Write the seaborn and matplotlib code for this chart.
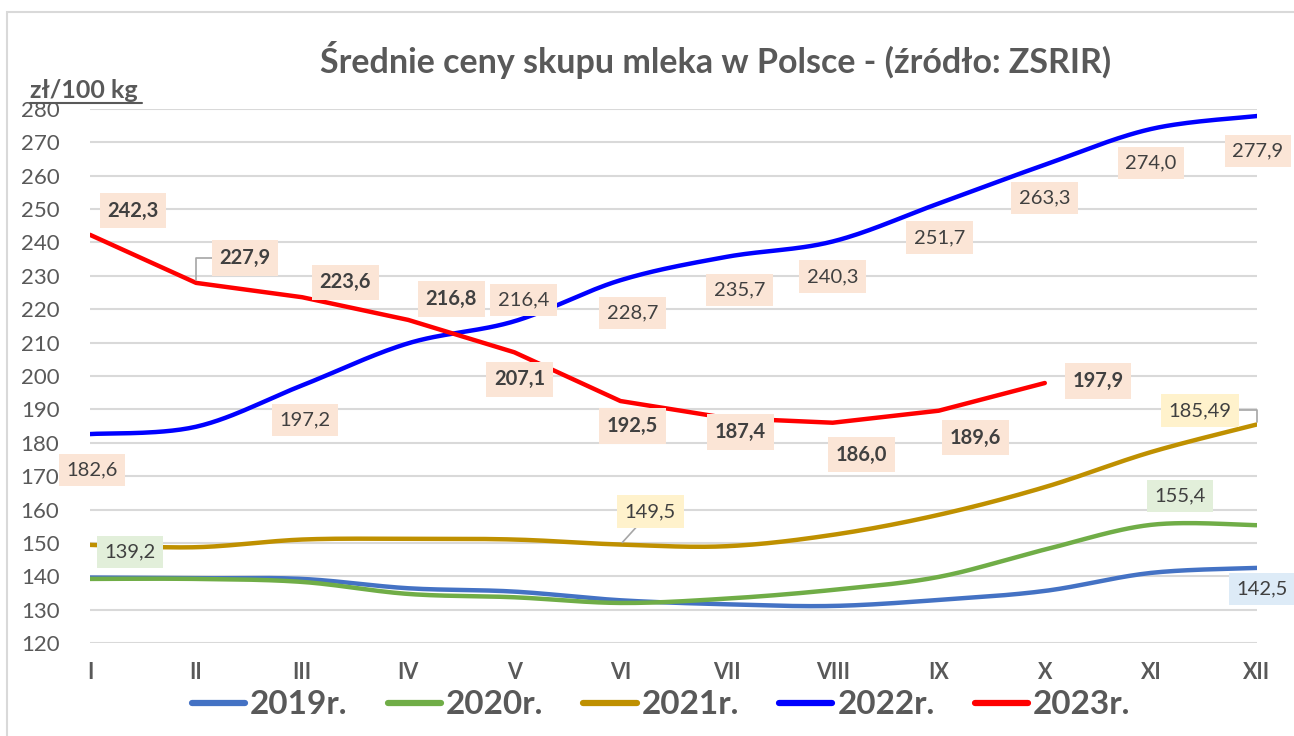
import numpy as np
import pandas as pd
import matplotlib
matplotlib.use("Agg")
import matplotlib.pyplot as plt
from matplotlib.lines import Line2D
from matplotlib.patches import Rectangle
import seaborn as sns

# months and yearly milk prices (zl/100 kg)
months = ["I", "II", "III", "IV", "V", "VI", "VII", "VIII", "IX", "X", "XI", "XII"]
years = ["2019r.", "2020r.", "2021r.", "2022r.", "2023r."]
p2019 = [139.6, 139.4, 139.2, 136.4, 135.4, 132.8, 131.6, 131.1, 132.9, 135.6, 141.0, 142.5]
p2020 = [139.2, 139.2, 138.3, 134.7, 133.7, 132.0, 133.3, 135.9, 139.8, 148.0, 155.4, 155.3]
p2021 = [149.4, 148.7, 151.0, 151.2, 151.0, 149.5, 149.0, 152.4, 158.4, 166.7, 177.2, 185.49]
p2022 = [182.6, 184.8, 197.2, 209.8, 216.4, 228.7, 235.7, 240.3, 251.7, 263.3, 274.0, 277.9]
p2023 = [242.3, 227.9, 223.6, 216.8, 207.1, 192.5, 187.4, 186.0, 189.6, 197.9]

colors = {"2019r.": "#4472C4", "2020r.": "#70AD47", "2021r.": "#BF9000",
          "2022r.": "#0000FF", "2023r.": "#FF0000"}
series = {"2019r.": p2019, "2020r.": p2020, "2021r.": p2021, "2022r.": p2022, "2023r.": p2023}
smoothed = {"2019r.": True, "2020r.": True, "2021r.": True, "2022r.": True, "2023r.": False}

GREY = "#595959"
TXT = "#404040"
FONT = ["Lato", "DejaVu Sans"]


def excel_smooth(y, steps=30):
    """Excel style smoothed line: cubic bezier through the points."""
    y = np.asarray(y, dtype=float)
    x = np.arange(len(y), dtype=float)
    pts = np.column_stack([x, y])
    out = [pts[0]]
    t = np.linspace(0, 1, steps)[1:, None]
    for i in range(len(pts) - 1):
        p0 = pts[i - 1] if i > 0 else pts[i]
        p1, p2 = pts[i], pts[i + 1]
        p3 = pts[i + 2] if i + 2 < len(pts) else pts[i + 1]
        c1 = p1 + (p2 - p0) / 6
        c2 = p2 - (p3 - p1) / 6
        seg = ((1 - t) ** 3) * p1 + 3 * ((1 - t) ** 2) * t * c1 + 3 * (1 - t) * t ** 2 * c2 + t ** 3 * p2
        out.extend(seg)
    out = np.array(out)
    return out[:, 0], out[:, 1]


rows = []
for name, vals in series.items():
    if smoothed[name]:
        xs, ys = excel_smooth(vals)
    else:
        xs, ys = np.arange(len(vals), dtype=float), np.asarray(vals, dtype=float)
    for a, b in zip(xs, ys):
        rows.append({"rok": name, "x": a, "cena": b})
df = pd.DataFrame(rows)

sns.set_theme(style="white")
plt.rcParams["font.family"] = FONT

fig = plt.figure(figsize=(12.94, 7.36), dpi=100)
ax = fig.add_axes([90 / 1294, 1 - 643 / 736, (1257 - 90) / 1294, (643 - 109) / 736])

# outer chart border
fig.add_artist(Rectangle((7 / 1294, -0.05), 1.2, 1 - 12 / 736 + 0.05, transform=fig.transFigure,
                         fill=False, edgecolor="#D9D9D9", linewidth=1.5))

sns.lineplot(data=df, x="x", y="cena", hue="rok", units="rok", estimator=None, sort=False,
             palette=colors, linewidth=3.2, legend=False, ax=ax, zorder=3)

ax.set_xlim(0, len(months) - 1)
ax.set_ylim(120, 280)
ax.set_yticks(np.arange(120, 281, 10))
ax.set_xticks(range(len(months)))
ax.set_xticklabels(months, fontsize=15.5, fontweight="bold", color=GREY)
ax.tick_params(axis="y", labelsize=16, labelcolor=GREY, length=0, pad=22)
ax.tick_params(axis="x", length=0, pad=14)
ax.grid(axis="y", color="#D9D9D9", linewidth=1.5)
ax.grid(axis="x", visible=False)
for s in ax.spines.values():
    s.set_visible(False)
ax.set_xlabel("")
ax.set_ylabel("")


def fmt(v):
    s = f"{v:.2f}".rstrip("0")
    if s.endswith("."):
        s += "0"
    return s.replace(".", ",")


ELBOW = "angle,angleA=0,angleB=90,rad=0"
# data labels: (series, month index, offset px, bg colour, bold, leader style)
labels = [
    ("2022r.", 0, (2, -36), "#FBE5D6", False, None),
    ("2022r.", 2, (3, -35), "#FBE5D6", False, None),
    ("2022r.", 4, (9, 21), "#FBE5D6", False, None),
    ("2022r.", 5, (12, -33), "#FBE5D6", False, None),
    ("2022r.", 6, (13, -33), "#FBE5D6", False, None),
    ("2022r.", 7, (0, -35), "#FBE5D6", False, None),
    ("2022r.", 8, (1, -34), "#FBE5D6", False, None),
    ("2022r.", 9, (0, -33), "#FBE5D6", False, None),
    ("2022r.", 10, (0, -34), "#FBE5D6", False, None),
    ("2022r.", 11, (1, -35), "#FBE5D6", False, None),
    ("2023r.", 0, (43, 24), "#FBE5D6", True, None),
    ("2023r.", 1, (49, 25), "#FBE5D6", True, ELBOW),
    ("2023r.", 2, (43, 15), "#FBE5D6", True, None),
    ("2023r.", 3, (43, 21), "#FBE5D6", True, None),
    ("2023r.", 4, (5, -27), "#FBE5D6", True, None),
    ("2023r.", 5, (12, -25), "#FBE5D6", True, None),
    ("2023r.", 6, (14, -14), "#FBE5D6", True, None),
    ("2023r.", 7, (29, -32), "#FBE5D6", True, None),
    ("2023r.", 8, (37, -27), "#FBE5D6", True, None),
    ("2023r.", 9, (53, 2), "#FBE5D6", True, None),
    ("2020r.", 0, (40, 27), "#E2EFDA", False, None),
    ("2021r.", 5, (30, 33), "#FFF2CC", False, "arc3"),
    ("2020r.", 10, (29, 29), "#E2EFDA", False, None),
    ("2021r.", 11, (-57, 14), "#FFF2CC", False, ELBOW),
    ("2019r.", 11, (5, -21), "#DDEBF7", False, None),
]
for name, i, off, bg, bold, leader in labels:
    v = series[name][i]
    arrow = None
    if leader:
        arrow = dict(arrowstyle="-", color="#A6A6A6", lw=1.2, shrinkA=0, shrinkB=2,
                     connectionstyle=leader)
    ax.annotate(fmt(v), xy=(i, v), xytext=off, textcoords="offset pixels",
                ha="center", va="center", fontsize=14.5, color=TXT,
                fontweight="bold" if bold else "normal",
                bbox=dict(boxstyle="square,pad=0.38", facecolor=bg, edgecolor="none"),
                arrowprops=arrow, zorder=5, annotation_clip=False)

# title and unit
fig.text(716 / 1294, 1 - 60 / 736, "Średnie ceny skupu mleka w Polsce - (źródło: ZSRIR)",
         ha="center", va="center", fontsize=24.5, fontweight="bold", color=GREY)
fig.text(30 / 1294, 1 - 90 / 736, "zł/100 kg", ha="left", va="center",
         fontsize=18, fontweight="bold", color=GREY)
fig.add_artist(Line2D([30 / 1294, 142 / 1294], [1 - 103 / 736, 1 - 103 / 736],
                      transform=fig.transFigure, color=GREY, linewidth=1.5))

# legend at the bottom
handles = [Line2D([0], [0], color=colors[y], linewidth=4.5, solid_capstyle="round") for y in years]
leg = fig.legend(handles, years, loc="center", bbox_to_anchor=(661 / 1294, 1 - 705 / 736),
                 ncol=5, frameon=False, handlelength=1.6, handletextpad=0.15, columnspacing=1.2,
                 borderpad=0, prop={"family": FONT, "weight": "bold", "size": 24})
for t in leg.get_texts():
    t.set_color(GREY)

fig.savefig("out.png", dpi=100)
